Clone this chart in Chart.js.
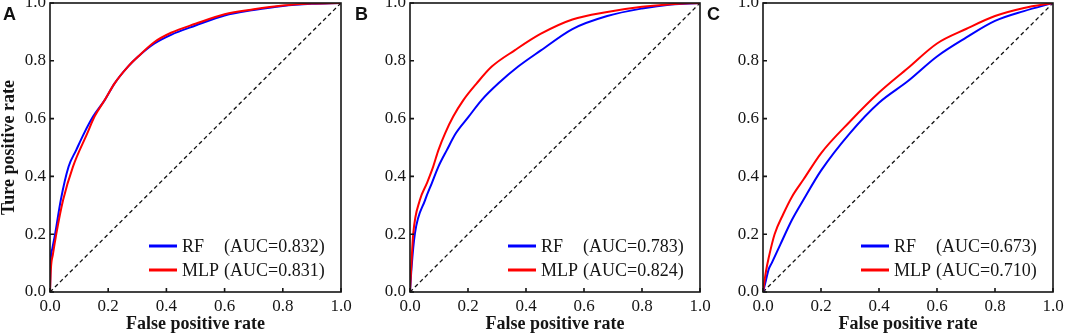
<!DOCTYPE html>
<html>
<head>
<meta charset="utf-8">
<script src="https://cdn.jsdelivr.net/npm/chart.js@4.4.1/dist/chart.umd.min.js"></script>
<style>
  html, body { margin: 0; padding: 0; background: #fff; }
  #wrap { position: relative; width: 1065px; height: 336px; overflow: hidden; }
  .panel { position: absolute; top: 0; height: 336px; }
</style>
</head>
<body>
<div id="wrap">
  <div class="panel" style="left:0;width:356px"><canvas id="rocA"></canvas></div>
  <div class="panel" style="left:352px;width:360px"><canvas id="rocB"></canvas></div>
  <div class="panel" style="left:704px;width:361px"><canvas id="rocC"></canvas></div>
</div>
<script>
/* ROC curves, three panels (A/B/C), RF vs MLP */

// --- panel A ---
const fprA_RF  = [0, 0.002, 0.008, 0.018, 0.037, 0.064, 0.09, 0.117, 0.148, 0.188, 0.222, 0.268, 0.302, 0.359, 0.416, 0.5, 0.6, 0.7, 0.8, 0.9, 1];
const tprA_RF  = [0, 0.1, 0.15, 0.203, 0.318, 0.434, 0.491, 0.549, 0.607, 0.664, 0.722, 0.78, 0.814, 0.86, 0.89, 0.922, 0.957, 0.976, 0.99, 0.997, 1];
const fprA_MLP = [0, 0.003, 0.01, 0.022, 0.045, 0.079, 0.128, 0.153, 0.188, 0.222, 0.268, 0.302, 0.359, 0.416, 0.5, 0.6, 0.7, 0.8, 0.9, 1];
const tprA_MLP = [0, 0.08, 0.13, 0.203, 0.318, 0.434, 0.549, 0.607, 0.664, 0.722, 0.78, 0.814, 0.865, 0.897, 0.928, 0.961, 0.978, 0.991, 0.998, 1];

// --- panel B ---
const fprB_RF  = [0, 0.005, 0.017, 0.052, 0.075, 0.098, 0.127, 0.158, 0.201, 0.247, 0.305, 0.373, 0.45, 0.56, 0.68, 0.8, 0.9, 1];
const tprB_RF  = [0, 0.08, 0.203, 0.318, 0.376, 0.434, 0.491, 0.549, 0.605, 0.664, 0.722, 0.78, 0.835, 0.91, 0.955, 0.981, 0.995, 1];
const fprB_MLP = [0, 0.005, 0.011, 0.034, 0.058, 0.08, 0.098, 0.121, 0.149, 0.184, 0.23, 0.282, 0.362, 0.45, 0.56, 0.68, 0.8, 0.9, 1];
const tprB_MLP = [0, 0.1, 0.2, 0.318, 0.376, 0.434, 0.491, 0.549, 0.607, 0.664, 0.722, 0.78, 0.837, 0.893, 0.943, 0.969, 0.987, 0.996, 1];

// --- panel C ---
const fprC_RF  = [0, 0.01, 0.02, 0.03, 0.06, 0.1, 0.14, 0.2, 0.3, 0.4, 0.5, 0.6, 0.7, 0.8, 0.9, 1];
const tprC_RF  = [0, 0.04, 0.08, 0.1, 0.165, 0.25, 0.32, 0.42, 0.55, 0.655, 0.73, 0.815, 0.88, 0.938, 0.972, 1];
const fprC_MLP = [0, 0.01, 0.02, 0.04, 0.07, 0.1, 0.14, 0.2, 0.3, 0.4, 0.5, 0.6, 0.7, 0.8, 0.9, 1];
const tprC_MLP = [0, 0.07, 0.12, 0.2, 0.27, 0.33, 0.39, 0.48, 0.59, 0.69, 0.775, 0.86, 0.91, 0.955, 0.983, 1];

// chance line + labels
const chanceFpr = [0, 1];
const chanceTpr = [0, 1];
const panelLetters = ['A', 'B', 'C'];
const aucRF  = ['0.832', '0.783', '0.673'];
const aucMLP = ['0.831', '0.824', '0.710'];
const tickValues = [0, 0.2, 0.4, 0.6, 0.8, 1.0];

const SERIF = '"Liberation Serif", "Times New Roman", serif';
const COLOR_RF = '#0000ff';
const COLOR_MLP = '#ff0000';

function toXY(fpr, tpr) {
    return fpr.map((f, i) => ({ x: f, y: tpr[i] }));
}

// frame, inward ticks, legend inside the plot and the panel letter
const rocFramePlugin = {
    id: 'rocFrame',
    afterDatasetsDraw(chart, args, opts) {
        const { ctx, chartArea: { left, right, top, bottom }, scales: { x, y } } = chart;
        ctx.save();

        ctx.strokeStyle = '#151515';
        ctx.lineWidth = 1.6;
        ctx.strokeRect(left, top, right - left, bottom - top);

        ctx.beginPath();
        tickValues.forEach(v => {
            const px = x.getPixelForValue(v);
            ctx.moveTo(px, bottom);
            ctx.lineTo(px, bottom - 4);
            const py = y.getPixelForValue(v);
            ctx.moveTo(left, py);
            ctx.lineTo(left + 4, py);
        });
        ctx.stroke();

        // legend
        ctx.font = '18px ' + SERIF;
        ctx.textBaseline = 'middle';
        ctx.textAlign = 'left';
        opts.items.forEach((it, i) => {
            const ly = bottom - 46 + i * 24;
            ctx.strokeStyle = it.color;
            ctx.lineWidth = 3;
            ctx.beginPath();
            ctx.moveTo(right - 192, ly);
            ctx.lineTo(right - 164, ly);
            ctx.stroke();
            ctx.fillStyle = '#151515';
            ctx.fillText(it.name, right - 159, ly + 1);
            ctx.fillText('(AUC=' + it.auc + ')', right - 117, ly + 1);
        });

        ctx.font = 'bold 18px "Liberation Sans", Arial, sans-serif';
        ctx.textBaseline = 'alphabetic';
        ctx.fillStyle = '#111';
        ctx.fillText(opts.letter, 3, 20);

        ctx.restore();
    }
};

function createRocChart(canvasId, idx, rfData, mlpData, yWidth, padRight, showYTitle) {
    const ctx = document.getElementById(canvasId).getContext('2d');
    const tickFont = { family: SERIF, size: 17 };
    const titleFont = { family: SERIF, size: 18, weight: 'bold', lineHeight: 1 };

    return new Chart(ctx, {
        type: 'line',
        data: {
            datasets: [
                {
                    label: 'MLP',
                    data: mlpData,
                    borderColor: COLOR_MLP,
                    borderWidth: 2,
                    pointRadius: 0,
                    cubicInterpolationMode: 'monotone',
                    order: 0
                },
                {
                    label: 'RF',
                    data: rfData,
                    borderColor: COLOR_RF,
                    borderWidth: 2,
                    pointRadius: 0,
                    cubicInterpolationMode: 'monotone',
                    order: 1
                },
                // chance diagonal
                {
                    data: toXY(chanceFpr, chanceTpr),
                    borderColor: '#111',
                    borderWidth: 1.3,
                    borderDash: [4, 3],
                    pointRadius: 0,
                    order: 2
                }
            ]
        },
        options: {
            responsive: true,
            maintainAspectRatio: false,
            animation: false,
            layout: { padding: { top: 3, right: padRight, left: 0, bottom: 0 } },
            plugins: {
                legend: { display: false },
                tooltip: { enabled: false },
                rocFrame: {
                    letter: panelLetters[idx],
                    items: [
                        { name: 'RF', auc: aucRF[idx], color: COLOR_RF },
                        { name: 'MLP', auc: aucMLP[idx], color: COLOR_MLP }
                    ]
                }
            },
            scales: {
                x: {
                    type: 'linear',
                    min: 0,
                    max: 1,
                    ticks: {
                        stepSize: 0.2,
                        padding: 4,
                        color: '#151515',
                        font: tickFont,
                        maxRotation: 0,
                        autoSkip: false,
                        callback: v => Number(v).toFixed(1)
                    },
                    grid: { display: false, drawTicks: false },
                    border: { display: false },
                    title: {
                        display: true,
                        text: 'False positive rate',
                        color: '#151515',
                        font: titleFont,
                        padding: { top: 0, bottom: 2.5 }
                    },
                    afterFit(scale) {
                        scale.height = 44;
                        scale.paddingLeft = 0;
                        scale.paddingRight = 0;
                    }
                },
                y: {
                    type: 'linear',
                    min: 0,
                    max: 1,
                    ticks: {
                        stepSize: 0.2,
                        padding: 4,
                        color: '#151515',
                        font: tickFont,
                        callback: v => Number(v).toFixed(1)
                    },
                    grid: { display: false, drawTicks: false },
                    border: { display: false },
                    title: {
                        display: showYTitle,
                        text: 'Ture positive rate',
                        color: '#151515',
                        font: titleFont,
                        padding: { top: 0, bottom: 0 }
                    },
                    afterFit(scale) {
                        scale.width = yWidth;
                        scale.paddingTop = 0;
                        scale.paddingBottom = 0;
                    }
                }
            }
        },
        plugins: [rocFramePlugin]
    });
}

createRocChart('rocA', 0, toXY(fprA_RF, tprA_RF), toXY(fprA_MLP, tprA_MLP), 50, 15, true);
createRocChart('rocB', 1, toXY(fprB_RF, tprB_RF), toXY(fprB_MLP, tprB_MLP), 58, 12, false);
createRocChart('rocC', 2, toXY(fprC_RF, tprC_RF), toXY(fprC_MLP, tprC_MLP), 59, 12, false);
</script>
</body>
</html>
